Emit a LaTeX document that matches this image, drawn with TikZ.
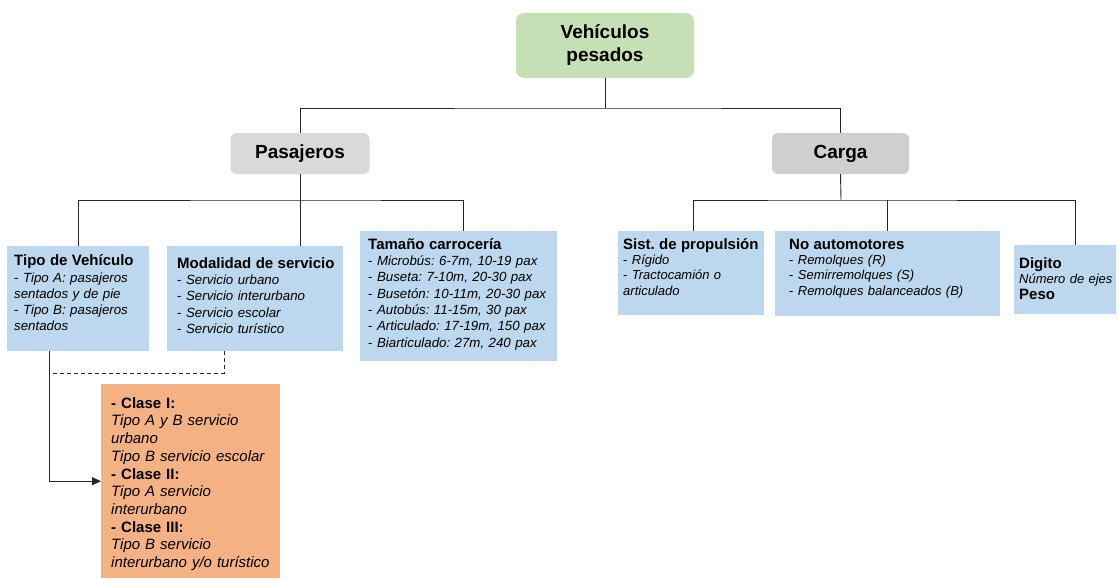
\documentclass[tikz,border=0pt]{standalone}
\usepackage{fontspec}
\setmainfont{Liberation Sans}
\usetikzlibrary{arrows.meta}
\definecolor{verde}{HTML}{C5E0B4}
\definecolor{gris}{HTML}{D9D9D9}
\definecolor{grisc}{HTML}{D0CECE}
\definecolor{azul}{HTML}{BDD7EE}
\definecolor{naranja}{HTML}{F4B183}
\newcommand{\encabezado}[1]{\mbox{\fontsize{15}{16}\selectfont\bfseries #1}}
\frenchspacing

\begin{document}
\begin{tikzpicture}[x=1pt, y=-1pt,
  raiz/.style={rectangle, rounded corners=8pt, fill=verde, minimum width=178pt, minimum height=65pt, align=center, font=\fontsize{19}{23}\selectfont\bfseries},
  rama/.style={rectangle, rounded corners=6pt, minimum width=139pt, minimum height=41pt, font=\fontsize{19}{23}\selectfont\bfseries},
  hoja/.style={rectangle, fill=azul, anchor=north west, inner ysep=0pt, align=left, font=\fontsize{13.3}{16.3}\selectfont},
  linea/.style={draw=black!85, line width=0.9pt}]
     \useasboundingbox (0,0) rectangle (1118,578);

     \node[raiz] (raiz) at (605,45.5) {Vehículos\\pesados};
     \node[rama, fill=gris] (pas) at (300,153.5) {Pasajeros};
     \node[rama, fill=grisc, minimum width=137pt] (carga) at (840.5,153.5) {Carga};

     \node[hoja, inner xsep=7pt, text width=128pt, text height=19.5pt, text depth=85.5pt] (tipo) at (7,246)
       {\encabezado{Tipo de Vehículo}\\- \textit{Tipo A: pasajeros}\\\textit{sentados y de pie}\\- \textit{Tipo B: pasajeros}\\\textit{sentados}};
     \node[hoja, inner xsep=10pt, text width=156pt, text height=22pt, text depth=83pt] (mod) at (167,246)
       {\encabezado{Modalidad de servicio}\\- \textit{Servicio urbano}\\- \textit{Servicio interurbano}\\- \textit{Servicio escolar}\\- \textit{Servicio turístico}};
     \node[hoja, inner xsep=8pt, text width=181pt, text height=18pt, text depth=112pt] (tam) at (360,231)
       {\encabezado{Tamaño carrocería}\\- \textit{Microbús: 6-7m, 10-19 pax}\\- \textit{Buseta: 7-10m, 20-30 pax}\\- \textit{Busetón: 10-11m, 20-30 pax}\\- \textit{Autobús: 11-15m, 30 pax}\\- \textit{Articulado: 17-19m, 150 pax}\\- \textit{Biarticulado: 27m, 240 pax}};

     \node[hoja, inner xsep=5pt, text width=136pt, text height=18pt, text depth=66pt, font=\fontsize{13}{15.3}\selectfont] (sist) at (618,231)
       {\encabezado{Sist. de propulsión}\\- \textit{Rígido}\\- \textit{Tractocamión o}\\\textit{articulado}};
     \node[hoja, inner xsep=14pt, text width=197pt, text height=18pt, text depth=67pt, font=\fontsize{13}{15.3}\selectfont] (noauto) at (775,231)
       {\encabezado{No automotores}\\- \textit{Remolques (R)}\\- \textit{Semirremolques (S)}\\- \textit{Remolques balanceados (B)}};
     \node[hoja, inner xsep=5pt, text width=92pt, text height=23pt, text depth=46pt, font=\fontsize{13}{15.5}\selectfont] (digito) at (1014,245)
       {\encabezado{Digito}\\\mbox{\textit{Número de ejes}}\\\encabezado{Peso}};

     \node[hoja, fill=naranja, inner xsep=10pt, text width=159pt, text height=24pt, text depth=170pt, font=\fontsize{15}{17.7}\selectfont] (clases) at (101,384)
       {\encabezado{- Clase I:}\\\textit{Tipo A y B servicio}\\\textit{urbano}\\\textit{Tipo B servicio escolar}\\\encabezado{- Clase II:}\\\textit{Tipo A servicio}\\\textit{interurbano}\\\encabezado{- Clase III:}\\\textit{Tipo B servicio}\\\textit{interurbano y/o turístico}};

     \coordinate (bus) at (605,108);
     \coordinate (busp) at (300,200);
     \coordinate (busc) at (841,200);
     \coordinate (cruce) at (49,373);

     \draw[linea] (raiz.south) -- (bus);
     \draw[linea] (pas.north) |- (bus) -| (carga.north);
     \draw[linea] (pas.south) -- (busp);
     \draw[linea] (tipo.north) |- (busp) -| ([xshift=4.5pt]tam.north);
     \draw[linea] (busp) -- (mod.north -| busp);
     \draw[linea] (carga.south) -- (busc);
     \draw[linea] ([xshift=2pt]sist.north) |- (busc) -| ([xshift=10pt]digito.north);
     \draw[linea] (busc -| noauto.north) -- (noauto.north);
     \draw[linea, -{Triangle[length=9pt, width=8pt]}] ([xshift=-29pt]tipo.south) |- (clases.west);
     \draw[linea, dash pattern=on 4pt off 3pt] ([xshift=-31pt]mod.south) |- (cruce);
\end{tikzpicture}
\end{document}
